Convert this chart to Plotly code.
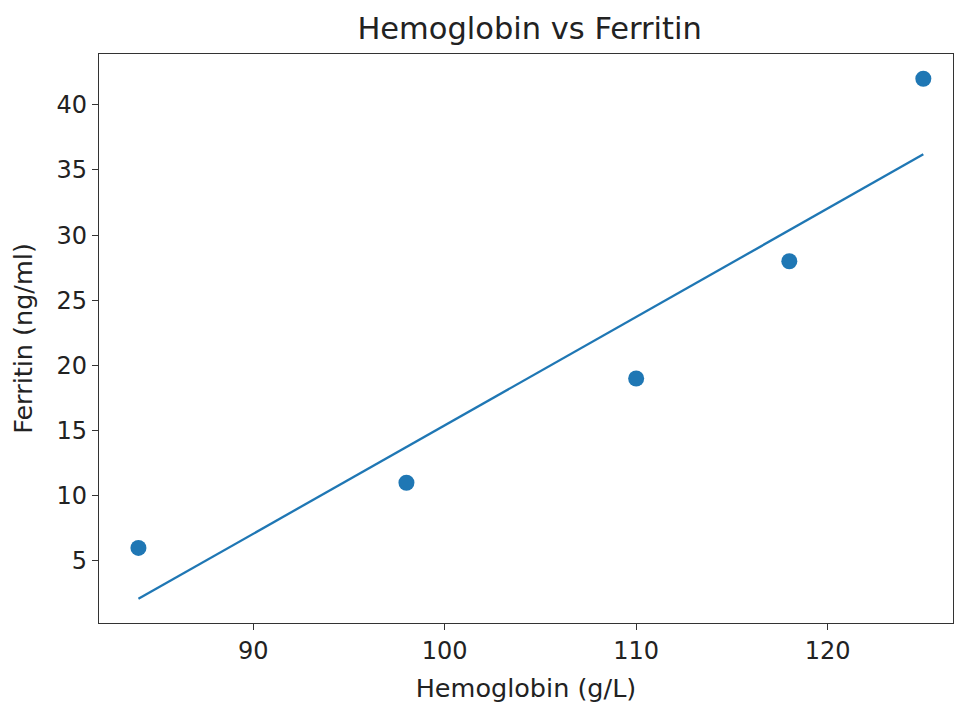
import plotly.graph_objects as go

hemoglobin = [84, 98, 110, 118, 125]
ferritin = [6, 11, 19, 28, 42]
fit_x = [84, 125]
fit_y = [2.1, 36.2]

FONT = "DejaVu Sans"
fig = go.Figure()
fig.add_trace(go.Scatter(x=fit_x, y=fit_y, mode="lines",
                         line=dict(color="#1f77b4", width=2.3), showlegend=False))
fig.add_trace(go.Scatter(x=hemoglobin, y=ferritin, mode="markers",
                         marker=dict(color="#1f77b4", size=16), showlegend=False))

axis_common = dict(showgrid=False, zeroline=False, showline=True, linecolor="#333",
                   linewidth=1.4, mirror=True, ticks="outside", ticklen=6,
                   tickcolor="#333", tickwidth=1.3,
                   tickfont=dict(family=FONT, size=24, color="#222"))

fig.update_layout(
    width=956, height=705,
    margin=dict(l=99, r=3, t=54, b=82),
    paper_bgcolor="white", plot_bgcolor="white",
    title=dict(text="Hemoglobin vs Ferritin", x=0.554, xanchor="center", y=0.96, yanchor="middle",
               font=dict(family=FONT, size=30.5, color="#222")),
    xaxis=dict(range=[81.94, 126.55], tickvals=[90, 100, 110, 120],
               title=dict(text="Hemoglobin (g/L)", standoff=15,
                          font=dict(family=FONT, size=25.5, color="#222")),
               **axis_common),
    yaxis=dict(range=[0.24, 43.9], tickvals=[5, 10, 15, 20, 25, 30, 35, 40],
               title=dict(text="Ferritin (ng/ml)", standoff=16,
                          font=dict(family=FONT, size=25.5, color="#222")),
               **axis_common),
)

fig.write_html("out.html")
